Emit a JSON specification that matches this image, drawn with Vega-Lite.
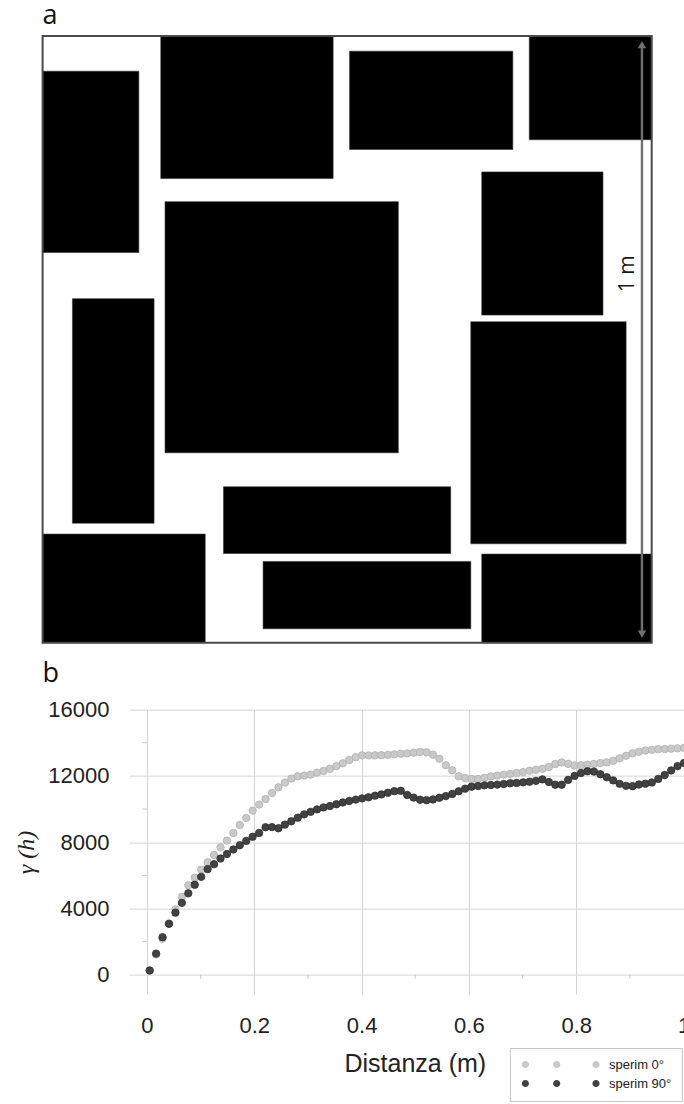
{
  "$schema": "https://vega.github.io/schema/vega-lite/v6.json",
  "padding": {"left": 14, "top": 2, "right": 0, "bottom": 0},
  "bounds": "flush",
  "spacing": 66.6,
  "config": {
    "view": {"stroke": null},
    "font": "Liberation Sans"
  },
  "vconcat": [
    {
      "width": 522.7,
      "height": 606.7,
      "title": {"text": "a", "anchor": "start", "frame": "group", "dx": -86.4, "dy": 16.3, "offset": 0, "baseline": "alphabetic", "font": "Open Sans", "fontSize": 27, "fontWeight": "normal", "color": "#111111"},
      "layer": [
        {
          "data": {"values": [
            {"x": 0, "x2": 0.158, "y": 0.643, "y2": 0.942},
            {"x": 0.194, "x2": 0.477, "y": 0.765, "y2": 1},
            {"x": 0.504, "x2": 0.772, "y": 0.813, "y2": 0.975},
            {"x": 0.799, "x2": 1, "y": 0.829, "y2": 1},
            {"x": 0.721, "x2": 0.920, "y": 0.540, "y2": 0.776},
            {"x": 0.201, "x2": 0.584, "y": 0.313, "y2": 0.727},
            {"x": 0.049, "x2": 0.183, "y": 0.197, "y2": 0.567},
            {"x": 0.703, "x2": 0.958, "y": 0.163, "y2": 0.529},
            {"x": 0, "x2": 0.267, "y": 0, "y2": 0.179},
            {"x": 0.297, "x2": 0.670, "y": 0.147, "y2": 0.257},
            {"x": 0.362, "x2": 0.703, "y": 0.023, "y2": 0.134},
            {"x": 0.721, "x2": 1, "y": 0, "y2": 0.146}
          ]},
          "mark": {"type": "rect", "fill": "#000000", "stroke": "#333333", "strokeWidth": 0.6},
          "encoding": {
            "x": {"field": "x", "type": "quantitative", "scale": {"domain": [0.14185, 1], "nice": false, "zero": false}, "axis": null},
            "x2": {"field": "x2"},
            "y": {"field": "y", "type": "quantitative", "scale": {"domain": [0, 1], "nice": false, "zero": false}, "axis": null},
            "y2": {"field": "y2"}
          }
        },
        {
          "data": {"values": [{"x": 0, "x2": 1, "y": 0, "y2": 1}]},
          "mark": {"type": "rect", "fill": null, "fillOpacity": 0, "stroke": "#4a4a4a", "strokeWidth": 2},
          "encoding": {
            "x": {"field": "x", "type": "quantitative", "axis": null},
            "x2": {"field": "x2"},
            "y": {"field": "y", "type": "quantitative", "axis": null},
            "y2": {"field": "y2"}
          }
        },
        {
          "data": {"values": [{"x": 0.984, "y": 0.0142, "y2": 0.9858}]},
          "mark": {"type": "rule", "color": "#707070", "strokeWidth": 2.4},
          "encoding": {
            "x": {"field": "x", "type": "quantitative", "axis": null},
            "y": {"field": "y", "type": "quantitative", "axis": null},
            "y2": {"field": "y2"}
          }
        },
        {
          "data": {"values": [{"x": 0.984, "y": 0.9858}]},
          "mark": {"type": "point", "shape": "triangle-up", "filled": true, "color": "#707070", "size": 70, "opacity": 1},
          "encoding": {
            "x": {"field": "x", "type": "quantitative", "axis": null},
            "y": {"field": "y", "type": "quantitative", "axis": null}
          }
        },
        {
          "data": {"values": [{"x": 0.984, "y": 0.0142}]},
          "mark": {"type": "point", "shape": "triangle-down", "filled": true, "color": "#707070", "size": 70, "opacity": 1},
          "encoding": {
            "x": {"field": "x", "type": "quantitative", "axis": null},
            "y": {"field": "y", "type": "quantitative", "axis": null}
          }
        },
        {
          "data": {"values": [{"x": 0.9616, "y": 0.608, "label": "1 m"}]},
          "mark": {"type": "text", "angle": 270, "font": "Open Sans", "fontSize": 21, "color": "#1a1a1a", "align": "center", "baseline": "middle"},
          "encoding": {
            "x": {"field": "x", "type": "quantitative", "axis": null},
            "y": {"field": "y", "type": "quantitative", "axis": null},
            "text": {"field": "label"}
          }
        }
      ]
    },
    {
      "width": 554.5,
      "height": 284.7,
      "title": {"text": "b", "anchor": "start", "frame": "group", "dx": -86.4, "dy": 10, "offset": 0, "baseline": "alphabetic", "font": "Open Sans", "fontSize": 27, "fontWeight": "normal", "color": "#111111"},
      "layer": [
        {
          "data": {"values": [
            {"h": 0.005, "g": 260, "s": "sperim 0°"},
            {"h": 0.017, "g": 1230, "s": "sperim 0°"},
            {"h": 0.029, "g": 2180, "s": "sperim 0°"},
            {"h": 0.041, "g": 3100, "s": "sperim 0°"},
            {"h": 0.053, "g": 3950, "s": "sperim 0°"},
            {"h": 0.065, "g": 4700, "s": "sperim 0°"},
            {"h": 0.077, "g": 5400, "s": "sperim 0°"},
            {"h": 0.089, "g": 5860, "s": "sperim 0°"},
            {"h": 0.101, "g": 6346, "s": "sperim 0°"},
            {"h": 0.113, "g": 6787, "s": "sperim 0°"},
            {"h": 0.125, "g": 7228, "s": "sperim 0°"},
            {"h": 0.137, "g": 7692, "s": "sperim 0°"},
            {"h": 0.149, "g": 8096, "s": "sperim 0°"},
            {"h": 0.161, "g": 8555, "s": "sperim 0°"},
            {"h": 0.173, "g": 9037, "s": "sperim 0°"},
            {"h": 0.185, "g": 9460, "s": "sperim 0°"},
            {"h": 0.197, "g": 9906, "s": "sperim 0°"},
            {"h": 0.209, "g": 10268, "s": "sperim 0°"},
            {"h": 0.221, "g": 10606, "s": "sperim 0°"},
            {"h": 0.233, "g": 10968, "s": "sperim 0°"},
            {"h": 0.245, "g": 11312, "s": "sperim 0°"},
            {"h": 0.257, "g": 11596, "s": "sperim 0°"},
            {"h": 0.269, "g": 11837, "s": "sperim 0°"},
            {"h": 0.281, "g": 11975, "s": "sperim 0°"},
            {"h": 0.293, "g": 12017, "s": "sperim 0°"},
            {"h": 0.305, "g": 12078, "s": "sperim 0°"},
            {"h": 0.317, "g": 12198, "s": "sperim 0°"},
            {"h": 0.329, "g": 12300, "s": "sperim 0°"},
            {"h": 0.341, "g": 12430, "s": "sperim 0°"},
            {"h": 0.353, "g": 12590, "s": "sperim 0°"},
            {"h": 0.365, "g": 12760, "s": "sperim 0°"},
            {"h": 0.377, "g": 12960, "s": "sperim 0°"},
            {"h": 0.389, "g": 13130, "s": "sperim 0°"},
            {"h": 0.401, "g": 13240, "s": "sperim 0°"},
            {"h": 0.413, "g": 13240, "s": "sperim 0°"},
            {"h": 0.425, "g": 13242, "s": "sperim 0°"},
            {"h": 0.437, "g": 13250, "s": "sperim 0°"},
            {"h": 0.449, "g": 13270, "s": "sperim 0°"},
            {"h": 0.461, "g": 13300, "s": "sperim 0°"},
            {"h": 0.473, "g": 13340, "s": "sperim 0°"},
            {"h": 0.485, "g": 13360, "s": "sperim 0°"},
            {"h": 0.497, "g": 13400, "s": "sperim 0°"},
            {"h": 0.509, "g": 13441, "s": "sperim 0°"},
            {"h": 0.521, "g": 13430, "s": "sperim 0°"},
            {"h": 0.533, "g": 13280, "s": "sperim 0°"},
            {"h": 0.545, "g": 13030, "s": "sperim 0°"},
            {"h": 0.557, "g": 12650, "s": "sperim 0°"},
            {"h": 0.569, "g": 12340, "s": "sperim 0°"},
            {"h": 0.581, "g": 11975, "s": "sperim 0°"},
            {"h": 0.593, "g": 11870, "s": "sperim 0°"},
            {"h": 0.605, "g": 11813, "s": "sperim 0°"},
            {"h": 0.617, "g": 11813, "s": "sperim 0°"},
            {"h": 0.629, "g": 11890, "s": "sperim 0°"},
            {"h": 0.641, "g": 11960, "s": "sperim 0°"},
            {"h": 0.653, "g": 12017, "s": "sperim 0°"},
            {"h": 0.665, "g": 12078, "s": "sperim 0°"},
            {"h": 0.677, "g": 12117, "s": "sperim 0°"},
            {"h": 0.689, "g": 12175, "s": "sperim 0°"},
            {"h": 0.701, "g": 12230, "s": "sperim 0°"},
            {"h": 0.713, "g": 12310, "s": "sperim 0°"},
            {"h": 0.725, "g": 12370, "s": "sperim 0°"},
            {"h": 0.737, "g": 12430, "s": "sperim 0°"},
            {"h": 0.749, "g": 12540, "s": "sperim 0°"},
            {"h": 0.761, "g": 12715, "s": "sperim 0°"},
            {"h": 0.773, "g": 12810, "s": "sperim 0°"},
            {"h": 0.785, "g": 12725, "s": "sperim 0°"},
            {"h": 0.797, "g": 12630, "s": "sperim 0°"},
            {"h": 0.809, "g": 12640, "s": "sperim 0°"},
            {"h": 0.821, "g": 12680, "s": "sperim 0°"},
            {"h": 0.833, "g": 12720, "s": "sperim 0°"},
            {"h": 0.845, "g": 12778, "s": "sperim 0°"},
            {"h": 0.857, "g": 12815, "s": "sperim 0°"},
            {"h": 0.869, "g": 12910, "s": "sperim 0°"},
            {"h": 0.881, "g": 13060, "s": "sperim 0°"},
            {"h": 0.893, "g": 13215, "s": "sperim 0°"},
            {"h": 0.905, "g": 13360, "s": "sperim 0°"},
            {"h": 0.917, "g": 13460, "s": "sperim 0°"},
            {"h": 0.929, "g": 13530, "s": "sperim 0°"},
            {"h": 0.941, "g": 13575, "s": "sperim 0°"},
            {"h": 0.953, "g": 13610, "s": "sperim 0°"},
            {"h": 0.965, "g": 13622, "s": "sperim 0°"},
            {"h": 0.977, "g": 13640, "s": "sperim 0°"},
            {"h": 0.989, "g": 13660, "s": "sperim 0°"},
            {"h": 1.001, "g": 13690, "s": "sperim 0°"},
            {"h": 0.005, "g": 260, "s": "sperim 90°"},
            {"h": 0.017, "g": 1280, "s": "sperim 90°"},
            {"h": 0.029, "g": 2270, "s": "sperim 90°"},
            {"h": 0.041, "g": 3075, "s": "sperim 90°"},
            {"h": 0.053, "g": 3750, "s": "sperim 90°"},
            {"h": 0.065, "g": 4340, "s": "sperim 90°"},
            {"h": 0.077, "g": 4917, "s": "sperim 90°"},
            {"h": 0.089, "g": 5430, "s": "sperim 90°"},
            {"h": 0.101, "g": 5910, "s": "sperim 90°"},
            {"h": 0.113, "g": 6375, "s": "sperim 90°"},
            {"h": 0.125, "g": 6675, "s": "sperim 90°"},
            {"h": 0.137, "g": 7015, "s": "sperim 90°"},
            {"h": 0.149, "g": 7288, "s": "sperim 90°"},
            {"h": 0.161, "g": 7560, "s": "sperim 90°"},
            {"h": 0.173, "g": 7820, "s": "sperim 90°"},
            {"h": 0.185, "g": 8080, "s": "sperim 90°"},
            {"h": 0.197, "g": 8330, "s": "sperim 90°"},
            {"h": 0.209, "g": 8560, "s": "sperim 90°"},
            {"h": 0.221, "g": 8900, "s": "sperim 90°"},
            {"h": 0.233, "g": 8910, "s": "sperim 90°"},
            {"h": 0.245, "g": 8840, "s": "sperim 90°"},
            {"h": 0.257, "g": 9060, "s": "sperim 90°"},
            {"h": 0.269, "g": 9260, "s": "sperim 90°"},
            {"h": 0.281, "g": 9480, "s": "sperim 90°"},
            {"h": 0.293, "g": 9680, "s": "sperim 90°"},
            {"h": 0.305, "g": 9830, "s": "sperim 90°"},
            {"h": 0.317, "g": 9980, "s": "sperim 90°"},
            {"h": 0.329, "g": 10100, "s": "sperim 90°"},
            {"h": 0.341, "g": 10180, "s": "sperim 90°"},
            {"h": 0.353, "g": 10290, "s": "sperim 90°"},
            {"h": 0.365, "g": 10400, "s": "sperim 90°"},
            {"h": 0.377, "g": 10490, "s": "sperim 90°"},
            {"h": 0.389, "g": 10570, "s": "sperim 90°"},
            {"h": 0.401, "g": 10645, "s": "sperim 90°"},
            {"h": 0.413, "g": 10710, "s": "sperim 90°"},
            {"h": 0.425, "g": 10810, "s": "sperim 90°"},
            {"h": 0.437, "g": 10885, "s": "sperim 90°"},
            {"h": 0.449, "g": 10980, "s": "sperim 90°"},
            {"h": 0.461, "g": 11080, "s": "sperim 90°"},
            {"h": 0.473, "g": 11100, "s": "sperim 90°"},
            {"h": 0.485, "g": 10850, "s": "sperim 90°"},
            {"h": 0.497, "g": 10690, "s": "sperim 90°"},
            {"h": 0.509, "g": 10560, "s": "sperim 90°"},
            {"h": 0.521, "g": 10535, "s": "sperim 90°"},
            {"h": 0.533, "g": 10580, "s": "sperim 90°"},
            {"h": 0.545, "g": 10680, "s": "sperim 90°"},
            {"h": 0.557, "g": 10780, "s": "sperim 90°"},
            {"h": 0.569, "g": 10910, "s": "sperim 90°"},
            {"h": 0.581, "g": 11070, "s": "sperim 90°"},
            {"h": 0.593, "g": 11230, "s": "sperim 90°"},
            {"h": 0.605, "g": 11350, "s": "sperim 90°"},
            {"h": 0.617, "g": 11390, "s": "sperim 90°"},
            {"h": 0.629, "g": 11430, "s": "sperim 90°"},
            {"h": 0.641, "g": 11450, "s": "sperim 90°"},
            {"h": 0.653, "g": 11474, "s": "sperim 90°"},
            {"h": 0.665, "g": 11514, "s": "sperim 90°"},
            {"h": 0.677, "g": 11554, "s": "sperim 90°"},
            {"h": 0.689, "g": 11574, "s": "sperim 90°"},
            {"h": 0.701, "g": 11610, "s": "sperim 90°"},
            {"h": 0.713, "g": 11650, "s": "sperim 90°"},
            {"h": 0.725, "g": 11700, "s": "sperim 90°"},
            {"h": 0.737, "g": 11790, "s": "sperim 90°"},
            {"h": 0.749, "g": 11630, "s": "sperim 90°"},
            {"h": 0.761, "g": 11470, "s": "sperim 90°"},
            {"h": 0.773, "g": 11470, "s": "sperim 90°"},
            {"h": 0.785, "g": 11760, "s": "sperim 90°"},
            {"h": 0.797, "g": 12000, "s": "sperim 90°"},
            {"h": 0.809, "g": 12175, "s": "sperim 90°"},
            {"h": 0.821, "g": 12280, "s": "sperim 90°"},
            {"h": 0.833, "g": 12260, "s": "sperim 90°"},
            {"h": 0.845, "g": 12100, "s": "sperim 90°"},
            {"h": 0.857, "g": 11920, "s": "sperim 90°"},
            {"h": 0.869, "g": 11730, "s": "sperim 90°"},
            {"h": 0.881, "g": 11520, "s": "sperim 90°"},
            {"h": 0.893, "g": 11400, "s": "sperim 90°"},
            {"h": 0.905, "g": 11380, "s": "sperim 90°"},
            {"h": 0.917, "g": 11480, "s": "sperim 90°"},
            {"h": 0.929, "g": 11530, "s": "sperim 90°"},
            {"h": 0.941, "g": 11600, "s": "sperim 90°"},
            {"h": 0.953, "g": 11820, "s": "sperim 90°"},
            {"h": 0.965, "g": 12050, "s": "sperim 90°"},
            {"h": 0.977, "g": 12330, "s": "sperim 90°"},
            {"h": 0.989, "g": 12590, "s": "sperim 90°"},
            {"h": 1.001, "g": 12780, "s": "sperim 90°"}
          ]},
          "mark": {"type": "point", "filled": true, "opacity": 1, "size": 55, "strokeWidth": 0.8},
          "encoding": {
            "x": {
              "field": "h", "type": "quantitative",
              "scale": {"domain": [-0.03355, 1.0], "nice": false, "zero": false},
              "axis": {
                "values": [0, 0.2, 0.4, 0.6, 0.8, 1], "format": "~g",
                "labelFont": "Liberation Sans", "labelFontSize": 22, "labelColor": "#222222",
                "labelPadding": 21, "labelFlush": false, "labelOverlap": false,
                "ticks": false, "domain": false, "grid": true, "gridColor": "#d4d4d4", "gridWidth": 1,
                "title": "Distanza (m)", "titleFont": "Liberation Sans", "titleFontSize": 25,
                "titleFontWeight": "normal", "titleColor": "#222222", "titlePadding": 15, "titleX": 285.8
              }
            },
            "y": {
              "field": "g", "type": "quantitative",
              "scale": {"domain": [-1176, 16000], "nice": false, "zero": false},
              "axis": {
                "values": [0, 4000, 8000, 12000, 16000], "format": "d",
                "labelFont": "Liberation Sans", "labelFontSize": 22, "labelColor": "#222222",
                "labelPadding": 20, "labelOverlap": false,
                "ticks": false, "domain": false, "grid": true, "gridColor": "#d4d4d4", "gridWidth": 1,
                "title": "γ (h)", "titleFont": "Liberation Serif", "titleFontStyle": "italic",
                "titleFontSize": 24, "titleFontWeight": "normal", "titleColor": "#222222", "titlePadding": 9
              }
            },
            "color": {
              "field": "s", "type": "nominal",
              "scale": {"domain": ["sperim 0°", "sperim 90°"], "range": ["#c9c9c9", "#424242"]},
              "legend": {
                "orient": "none", "legendX": 380.9, "legendY": 1012, "title": null,
                "symbolType": "M-18.55,0a0.9,0.9 0 1,0 1.8,0a0.9,0.9 0 1,0 -1.8,0ZM-10.73,0a0.9,0.9 0 1,0 1.8,0a0.9,0.9 0 1,0 -1.8,0ZM-0.9,0a0.9,0.9 0 1,0 1.8,0a0.9,0.9 0 1,0 -1.8,0Z",
                "symbolSize": 64, "symbolStrokeWidth": 0, "symbolOpacity": 1, "symbolOffset": 69.6,
                "labelFont": "Liberation Sans", "labelFontSize": 13, "labelColor": "#222222",
                "labelOffset": 6.5, "rowPadding": 5, "padding": 10,
                "fillColor": "#ffffff", "strokeColor": "#c4c4c4"
              }
            },
            "stroke": {
              "field": "s", "type": "nominal",
              "scale": {"domain": ["sperim 0°", "sperim 90°"], "range": ["#b0b0b0", "#2e2e2e"]},
              "legend": null
            }
          }
        },
        {
          "data": {"values": [{"g": 2000}, {"g": 6000}, {"g": 10000}, {"g": 14000}]},
          "mark": {"type": "rule", "color": "#c8c8c8", "strokeWidth": 1},
          "encoding": {
            "y": {"field": "g", "type": "quantitative"},
            "x": {"datum": -0.0093, "type": "quantitative"},
            "x2": {"datum": 0}
          }
        },
        {
          "data": {"values": [{"h": 0.1}, {"h": 0.3}, {"h": 0.5}, {"h": 0.7}, {"h": 0.9}]},
          "mark": {"type": "rule", "color": "#c8c8c8", "strokeWidth": 1},
          "encoding": {
            "x": {"field": "h", "type": "quantitative"},
            "y": {"datum": 0, "type": "quantitative"},
            "y2": {"datum": -240}
          }
        }
      ]
    }
  ]
}
